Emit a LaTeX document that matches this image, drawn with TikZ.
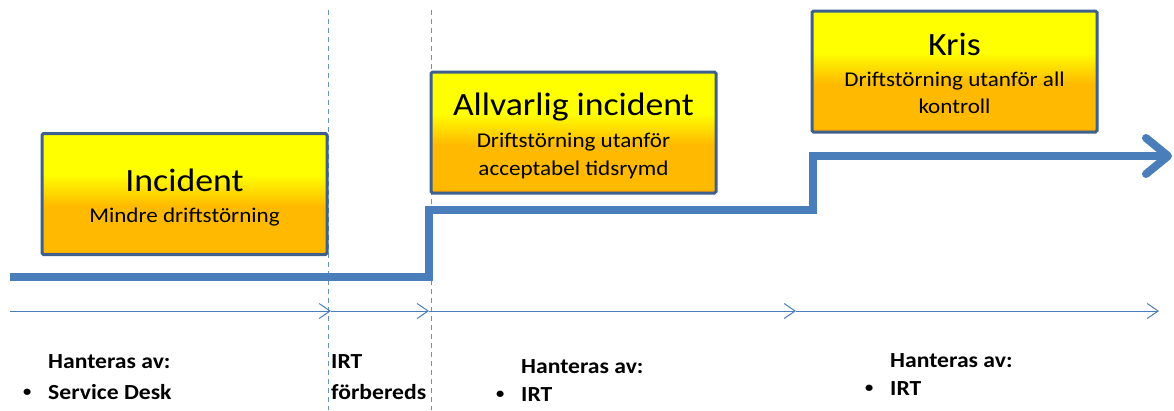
\documentclass[tikz,border=0pt]{standalone}
\usepackage{fontspec}
\setmainfont{Carlito}[FakeStretch=1.1]
\usetikzlibrary{arrows.meta}
\definecolor{ordeep}{RGB}{255,140,0}
\definecolor{ormid}{RGB}{255,186,0}
\definecolor{yel}{RGB}{255,255,0}
\definecolor{boxborder}{RGB}{62,96,140}
\definecolor{lineblue}{RGB}{74,126,187}
\definecolor{thinblue}{RGB}{100,145,200}
\pgfdeclareverticalshading{boxshade}{100bp}{color(0bp)=(ordeep); color(25bp)=(ordeep); color(26.5bp)=(ormid); color(45bp)=(ormid); color(58bp)=(yel); color(100bp)=(yel)}
\tikzset{
  levelbox/.style={draw=boxborder, line width=3pt, shading=boxshade, rounded corners=1.5pt,
    minimum width=285pt, minimum height=121pt, inner sep=0pt},
  titletext/.style={anchor=base, font=\fontsize{32.5pt}{36pt}\selectfont, inner sep=0pt},
  subtext/.style={anchor=base, font=\fontsize{21pt}{27pt}\selectfont, inner sep=0pt},
  bottomtext/.style={anchor=base west, font=\fontsize{21.5pt}{24pt}\selectfont\bfseries, inner sep=0pt},
  bullettext/.style={anchor=base west, font=\fontsize{15pt}{18pt}\selectfont\bfseries, inner sep=0pt},
  thickline/.style={draw=lineblue, line width=8pt, line join=miter,
    -{Straight Barb[length=22pt, width=36pt, round]}},
  thinarrow/.style={draw=lineblue, line width=1pt, -{Straight Barb[length=11pt, width=15pt]}},
  phaseline/.style={draw=thinblue, line width=1pt, dash pattern=on 5pt off 4pt}
}
\begin{document}
\begin{tikzpicture}[x=1pt, y=-1pt]
\useasboundingbox (0,0) rectangle (1174,410);
\fill[white] (0,0) rectangle (1174,410);

% dashed phase separators
\coordinate (d1t) at (328,10);
\coordinate (d1b) at (328,410);
\coordinate (d2t) at (431,10);
\coordinate (d2b) at (431,410);
\draw[phaseline] (d1t) -- (d1b);
\draw[phaseline] (d2t) -- (d2b);

% boxes
\node[levelbox] (b1) at (184.5,194) {};
\node[levelbox] (b2) at (573.5,132.5) {};
\node[levelbox] (b3) at (954.5,71.5) {};

\node[titletext] (b1t) at (184.5,191) {Incident};
\node[subtext] (b1s) at (184.5,222) {Mindre driftstörning};

\node[titletext] (b2t) at (573.5,115) {Allvarlig incident};
\node[subtext] (b2s1) at (573.5,147) {Driftstörning utanför};
\node[subtext] (b2s2) at (573.5,175) {acceptabel tidsrymd};

\node[titletext] (b3t) at (954.5,55) {Kris};
\node[subtext] (b3s1) at (954.5,86) {Driftstörning utanför all};
\node[subtext] (b3s2) at (954.5,113) {kontroll};

% thick escalation line
\coordinate (s0) at (10,277);
\coordinate (s1) at (429,277);
\coordinate (s2) at (429,210);
\coordinate (s3) at (813,210);
\coordinate (s4) at (813,156);
\coordinate (s5) at (1172,156);
\draw[thickline] (s0) -- (s1) -- (s2) -- (s3) -- (s4) -- (s5);

% thin time axis
\coordinate (t0) at (10,311);
\coordinate (t1) at (331,311);
\coordinate (t2) at (429,311);
\coordinate (t3) at (796,311);
\coordinate (t4) at (1159,311);
\draw[thinarrow] (t0) -- (t1);
\draw[thinarrow] (t1) -- (t2);
\draw[thinarrow] (t2) -- (t3);
\draw[thinarrow] (t3) -- (t4);

% bottom texts
\node[bottomtext] (h1) at (48,368) {Hanteras av:};
\node[bullettext] (h1b) at (23,396) {•};
\node[bottomtext] (h1i) at (48,399) {Service Desk};

\node[bottomtext] (p1) at (331,368) {IRT};
\node[bottomtext] (p2) at (331,399) {förbereds};

\node[bottomtext] (h2) at (521,373) {Hanteras av:};
\node[bullettext] (h2b) at (496,398) {•};
\node[bottomtext] (h2i) at (521,401) {IRT};

\node[bottomtext] (h3) at (890,367) {Hanteras av:};
\node[bullettext] (h3b) at (865,392) {•};
\node[bottomtext] (h3i) at (890,395) {IRT};
\end{tikzpicture}
\end{document}
